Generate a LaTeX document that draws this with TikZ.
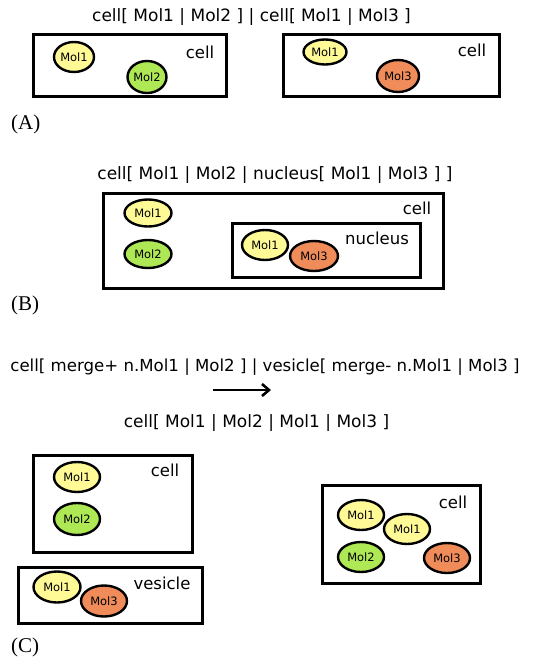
\documentclass[tikz,border=0pt]{standalone}
\usepackage{fontspec}
\setmainfont{Liberation Serif}
\newfontfamily\handfont{DejaVu Sans}
\usetikzlibrary{shapes.geometric,arrows.meta}
\definecolor{molyellow}{RGB}{255,250,150}
\definecolor{molgreen}{RGB}{175,232,85}
\definecolor{molorange}{RGB}{240,140,90}
\tikzset{
  compbox/.style={draw=black, line width=3pt, fill=white, inner sep=0pt},
  mol/.style={ellipse, draw=black, line width=2.4pt, inner sep=0pt,
    minimum width=46pt, minimum height=30pt, font=\handfont\fontsize{11.5}{11.5}\selectfont},
  m1/.style={mol, fill=molyellow},
  m2/.style={mol, fill=molgreen},
  m3/.style={mol, fill=molorange},
  formula/.style={font=\handfont\fontsize{17}{17}\selectfont, inner sep=0pt},
  complabel/.style={font=\handfont\fontsize{16.5}{16.5}\selectfont, inner sep=0pt},
  panel/.style={font=\fontsize{21}{21}\selectfont, inner sep=0pt, anchor=west},
}
\begin{document}
\begin{tikzpicture}[x=1pt, y=-1pt]
\useasboundingbox (0,0) rectangle (538,658);

% ---------- (A) two separate cells ----------
\node[formula] (tA) at (251.5,17) {cell[ Mol1 | Mol2 ] | cell[ Mol1 | Mol3 ]};
\node[compbox, minimum width=193pt, minimum height=62pt] (cA1) at (129.5,66) {};
\node[complabel] (lA1) at (200,52) {cell};
\node[m1, minimum width=40pt, minimum height=30pt] (a1m1) at (74,57) {Mol1};
\node[m2, minimum width=39pt, minimum height=32pt] (a1m2) at (147,77) {Mol2};
\node[compbox, minimum width=216pt, minimum height=62pt] (cA2) at (391,66) {};
\node[complabel] (lA2) at (472,50) {cell};
\node[m1, minimum width=43pt, minimum height=25pt] (a2m1) at (325,52) {Mol1};
\node[m3, minimum width=42pt, minimum height=32pt] (a2m3) at (398,76) {Mol3};
\node[panel] (pA) at (11,124) {(A)};

% ---------- (B) nucleus inside a cell ----------
\node[formula] (tB) at (275,175) {cell[ Mol1 | Mol2 | nucleus[ Mol1 | Mol3 ] ]};
\node[compbox, minimum width=340pt, minimum height=95pt] (cB) at (273,240.5) {};
\node[complabel] (lB) at (417,208) {cell};
\node[m1, minimum width=47pt, minimum height=27pt] (bm1) at (148,213) {Mol1};
\node[m2, minimum width=47pt, minimum height=28pt] (bm2) at (148,254) {Mol2};
\node[compbox, minimum width=188pt, minimum height=54pt] (nB) at (326,250) {};
\node[complabel] (lnB) at (377,238) {nucleus};
\node[m1, minimum width=46pt, minimum height=30pt] (nm1) at (265,245) {Mol1};
\node[m3, minimum width=48pt, minimum height=30pt] (nm3) at (314,256) {Mol3};
\node[panel] (pB) at (11,305) {(B)};

% ---------- (C) vesicle merging with a cell ----------
\node[formula, font=\handfont\fontsize{16.6}{16.6}\selectfont] (tC1) at (265,367) {cell[ merge+ n.Mol1 | Mol2 ] | vesicle[ merge- n.Mol1 | Mol3 ]};
\coordinate (arS) at (213,390);
\coordinate (arE) at (271,390);
\draw[line width=2.8pt, -{Straight Barb[length=7pt, width=12pt, line width=2.6pt]}] (arS) -- (arE);
\node[formula] (tC2) at (256.5,423) {cell[ Mol1 | Mol2 | Mol1 | Mol3 ]};

\node[compbox, minimum width=159pt, minimum height=97pt] (cC) at (112.5,503.5) {};
\node[complabel] (lC) at (165,470) {cell};
\node[m1] (cm1) at (77,477) {Mol1};
\node[m2, minimum height=32pt] (cm2) at (77,519) {Mol2};

\node[compbox, minimum width=184pt, minimum height=56pt] (vC) at (110,595) {};
\node[complabel] (lvC) at (162,583) {vesicle};
\node[m1, minimum width=47pt, minimum height=31pt] (vm1) at (57,587) {Mol1};
\node[m3, minimum height=31pt] (vm3) at (104,601) {Mol3};
\node[panel] (pC) at (11,647) {(C)};

\node[compbox, minimum width=158pt, minimum height=98pt] (rC) at (401,534) {};
\node[complabel] (lrC) at (453,502) {cell};
\node[m1] (rm1a) at (361,515) {Mol1};
\node[m1] (rm1b) at (407,529) {Mol1};
\node[m2] (rm2) at (361,557) {Mol2};
\node[m3] (rm3) at (447,558) {Mol3};
\end{tikzpicture}
\end{document}
